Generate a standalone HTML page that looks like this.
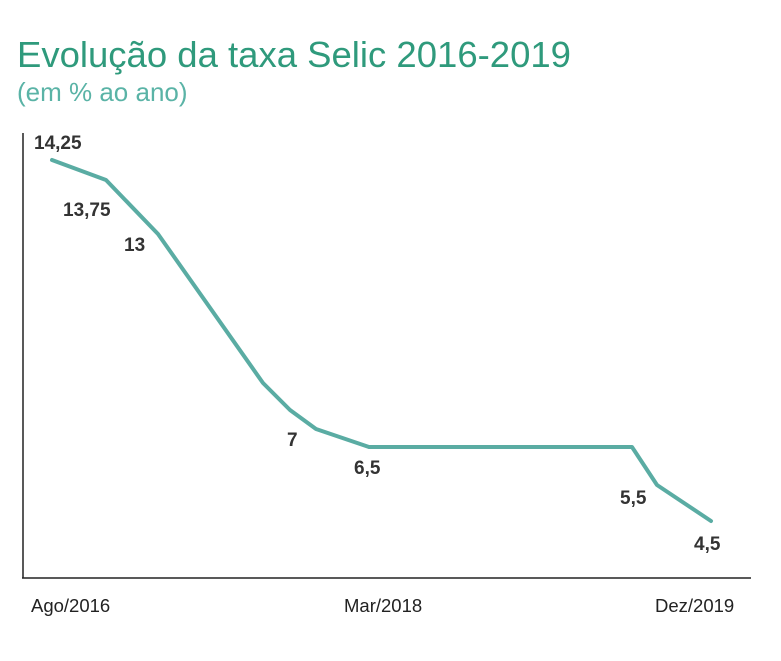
<!DOCTYPE html>
<html><head><meta charset="utf-8"><style>
body{margin:0;background:#fff;width:781px;height:656px;overflow:hidden}
</style></head><body>
<svg width="781" height="656" xmlns="http://www.w3.org/2000/svg" font-family="Liberation Sans, sans-serif">
<text x="17" y="67" font-size="36.5" fill="#2f9a7c">Evolução da taxa Selic 2016-2019</text>
<text x="17" y="101" font-size="26" fill="#5ab3a6">(em % ao ano)</text>
<line x1="23" y1="133" x2="23" y2="578" stroke="#222" stroke-width="1.5"/>
<line x1="22" y1="578" x2="751" y2="578" stroke="#222" stroke-width="1.5"/>
<polyline fill="none" stroke="#5aaca3" stroke-width="4" stroke-linejoin="round" stroke-linecap="round"
points="52,160 106,180 158,234 263,383 290,410 316,429 369,447 632,447 657,485 711,521"/>
<g font-size="19" font-weight="bold" fill="#333">
<text x="34" y="149">14,25</text>
<text x="63" y="216">13,75</text>
<text x="124" y="251">13</text>
<text x="287" y="446">7</text>
<text x="354" y="474">6,5</text>
<text x="620" y="504">5,5</text>
<text x="694" y="550">4,5</text>
</g>
<g font-size="18.5" fill="#222">
<text x="31" y="612">Ago/2016</text>
<text x="344" y="612">Mar/2018</text>
<text x="655" y="612">Dez/2019</text>
</g>
</svg>
</body></html>
